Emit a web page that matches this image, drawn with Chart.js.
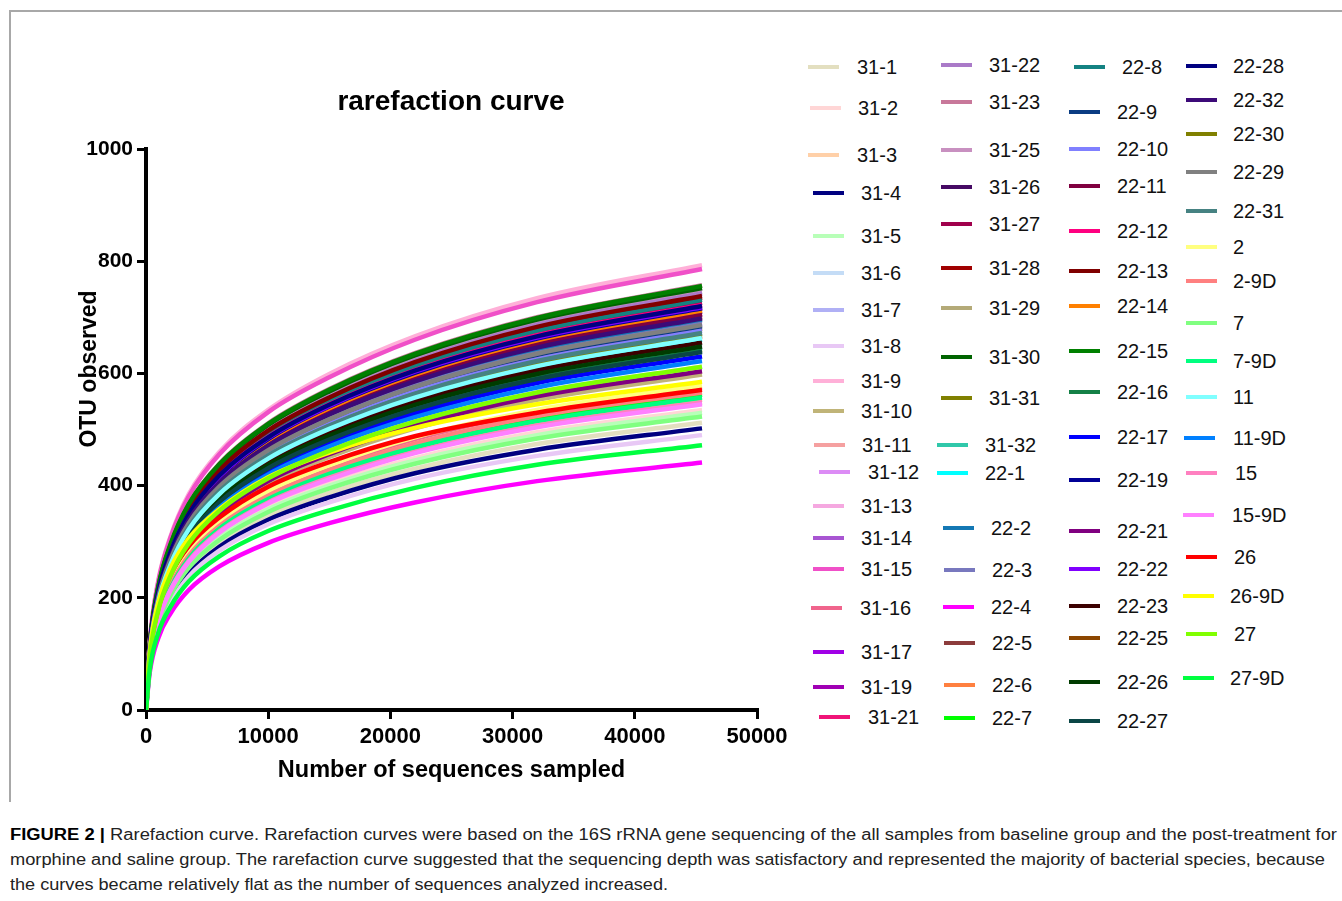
<!DOCTYPE html>
<html>
<head>
<meta charset="utf-8">
<script src="https://cdn.jsdelivr.net/npm/chart.js@4.4.1/dist/chart.umd.min.js"></script>
<style>
html,body{margin:0;padding:0;background:#fff;}
body{width:1342px;height:901px;position:relative;overflow:hidden;font-family:'Liberation Sans',Arial,sans-serif;}
#frameTop{position:absolute;left:9px;top:10px;width:1333px;height:0;border-top:2px solid #a8a8a8;}
#frameLeft{position:absolute;left:9px;top:10px;width:0;height:792px;border-left:2px solid #a8a8a8;}
#chart{position:absolute;left:0;top:0;}
#title{position:absolute;left:251px;width:400px;top:84px;text-align:center;font-weight:bold;font-size:28px;line-height:34px;color:#000;}
#ytitle{position:absolute;left:-12px;top:355px;width:200px;height:28px;line-height:28px;text-align:center;font-weight:bold;font-size:23px;color:#000;transform:rotate(-90deg);transform-origin:50% 50%;white-space:nowrap;}
.lg-line{position:absolute;width:31px;height:4px;}
.lg-text{position:absolute;font-size:20px;line-height:24px;color:#111;white-space:nowrap;}
.cap{position:absolute;left:10px;font-size:16px;line-height:20px;white-space:nowrap;color:#222;transform-origin:0 50%;display:inline-block;}
</style>
</head>
<body>
<div id="frameTop"></div>
<div id="frameLeft"></div>
<canvas id="chart" width="800" height="800"></canvas>
<div id="title">rarefaction curve</div>
<div id="ytitle">OTU observed</div>
<div id="legend"></div>
<div id="caption"></div>
<script>
// ---------- data ----------
const sampleDepths = [0, 300, 1000, 2000, 3500, 6000, 10000, 15000, 22000, 32000, 45500];

const xTickValues = [0, 10000, 20000, 30000, 40000, 50000];
const xTickLabels = ['0', '10000', '20000', '30000', '40000', '50000'];
const yTickValues = [0, 200, 400, 600, 800, 1000];
const yTickLabels = ['0', '200', '400', '600', '800', '1000'];

const sampleNames = [
  '31-1','31-2','31-3','31-4','31-5','31-6','31-7','31-8','31-9','31-10',
  '31-11','31-12','31-13','31-14','31-15','31-16','31-17','31-19','31-21',
  '31-22','31-23','31-25','31-26','31-27','31-28','31-29','31-30','31-31','31-32',
  '22-1','22-2','22-3','22-4','22-5','22-6','22-7',
  '22-8','22-9','22-10','22-11','22-12','22-13','22-14','22-15','22-16','22-17',
  '22-19','22-21','22-22','22-23','22-25','22-26','22-27',
  '22-28','22-32','22-30','22-29','22-31','2','2-9D','7','7-9D','11','11-9D',
  '15','15-9D','26','26-9D','27','27-9D'
];

const seriesColors = [
  '#e3dfc0','#ffd6d6','#ffd0a8','#000080','#b8ffb8','#c4dcf6','#b0b0f5','#e8c8f5','#ffb0d8','#c0b478',
  '#f5a0a0','#dc8cf5','#f5a8e0','#a855d2','#f050c8','#f0648c','#a000e6','#a000b4','#f01478',
  '#aa7ac8','#c8789a','#c890c0','#460a64','#a0004c','#a00000','#b4aa78','#006400','#808000','#30c8aa',
  '#00ffff','#1478b4','#7878be','#ff00ff','#8c3c3c','#ff8040','#00ff00',
  '#148282','#0a3c82','#8080ff','#800040','#ff0080','#800000','#ff8000','#008000','#148046','#0000ff',
  '#000096','#800080','#8000ff','#3c0000','#8c4600','#003c00','#0a4646',
  '#000080','#3c0a78','#808000','#808080','#468282','#ffff80','#ff8080','#80ff80','#00ff80','#80ffff','#0080ff',
  '#ff80c0','#ff80ff','#ff0000','#ffff00','#80ff00','#00ff40'
];

// OTU observed at each sampling depth (sampleDepths), per sample
const s31_1  = [0, 77, 148, 200, 248, 297, 346, 387, 430, 474, 512];
const s31_2  = [0, 80, 155, 209, 259, 310, 361, 404, 449, 495, 535];
const s31_3  = [0, 90, 175, 235, 292, 350, 407, 455, 507, 558, 603];
const s31_4  = [0, 75, 146, 196, 243, 291, 339, 379, 422, 464, 502];
const s31_5  = [0, 80, 154, 207, 257, 307, 358, 400, 445, 490, 530];
const s31_6  = [0, 92, 177, 239, 297, 355, 413, 462, 514, 566, 612];
const s31_7  = [0, 98, 189, 254, 316, 378, 440, 492, 548, 603, 652];
const s31_8  = [0, 74, 142, 191, 238, 284, 331, 370, 412, 453, 490];
const s31_9  = [0, 119, 230, 309, 385, 460, 535, 599, 666, 734, 793];
const s31_10 = [0, 90, 173, 233, 290, 347, 404, 451, 502, 553, 598];
const s31_11 = [0, 83, 160, 216, 268, 321, 373, 418, 465, 512, 553];
const s31_12 = [0, 104, 200, 269, 335, 400, 466, 521, 580, 638, 690];
const s31_13 = [0, 108, 209, 282, 350, 419, 487, 545, 606, 668, 722];
const s31_14 = [0, 111, 215, 289, 360, 430, 501, 560, 623, 686, 742];
const s31_15 = [0, 118, 228, 307, 381, 456, 531, 593, 660, 727, 786];
const s31_16 = [0, 86, 167, 224, 279, 334, 388, 434, 483, 532, 575];
const s31_17 = [0, 105, 203, 273, 340, 406, 473, 529, 588, 648, 700];
const s31_19 = [0, 106, 205, 275, 342, 409, 477, 533, 593, 653, 706];
const s31_21 = [0, 107, 208, 279, 347, 415, 483, 541, 601, 662, 716];
const s31_22 = [0, 112, 216, 291, 361, 432, 503, 562, 626, 689, 745];
const s31_23 = [0, 114, 220, 295, 367, 439, 511, 572, 636, 700, 757];
const s31_25 = [0, 113, 218, 293, 364, 436, 507, 567, 631, 695, 751];
const s31_26 = [0, 107, 206, 277, 344, 412, 479, 536, 596, 657, 710];
const s31_27 = [0, 109, 211, 283, 352, 421, 490, 548, 610, 672, 726];
const s31_28 = [0, 110, 213, 287, 356, 426, 496, 555, 617, 680, 735];
const s31_29 = [0, 105, 204, 274, 340, 407, 474, 530, 590, 649, 702];
const s31_30 = [0, 113, 218, 293, 365, 436, 508, 568, 632, 696, 752];
const s31_31 = [0, 96, 186, 250, 311, 372, 433, 485, 539, 594, 642];
const s31_32 = [0, 97, 187, 252, 313, 375, 436, 488, 543, 598, 646];
const s22_1  = [0, 99, 191, 257, 320, 383, 446, 498, 554, 611, 660];
const s22_2  = [0, 104, 202, 271, 337, 403, 469, 525, 584, 643, 695];
const s22_3  = [0, 103, 200, 268, 334, 399, 464, 519, 578, 636, 688];
const s22_4  = [0, 66, 128, 172, 214, 256, 298, 333, 370, 408, 441];
const s22_5  = [0, 102, 197, 265, 330, 394, 459, 513, 571, 629, 680];
const s22_6  = [0, 105, 203, 273, 340, 406, 473, 529, 588, 648, 700];
const s22_7  = [0, 84, 163, 219, 273, 326, 379, 424, 472, 520, 562];
const s22_8  = [0, 110, 212, 285, 355, 424, 493, 552, 614, 676, 731];
const s22_9  = [0, 103, 198, 267, 332, 397, 462, 516, 575, 633, 684];
const s22_10 = [0, 101, 196, 264, 328, 392, 456, 510, 568, 625, 676];
const s22_11 = [0, 106, 204, 275, 342, 409, 476, 532, 592, 652, 705];
const s22_12 = [0, 108, 209, 282, 350, 419, 487, 545, 606, 668, 722];
const s22_13 = [0, 111, 214, 288, 358, 428, 498, 557, 620, 683, 738];
const s22_14 = [0, 107, 206, 278, 345, 413, 481, 538, 598, 659, 712];
const s22_15 = [0, 113, 219, 295, 367, 438, 510, 571, 635, 699, 756];
const s22_16 = [0, 96, 186, 250, 310, 371, 432, 483, 538, 592, 640];
const s22_17 = [0, 95, 183, 246, 306, 365, 425, 476, 529, 583, 630];
const s22_19 = [0, 107, 208, 279, 347, 415, 483, 541, 601, 662, 716];
const s22_21 = [0, 91, 175, 236, 293, 350, 408, 456, 507, 559, 604];
const s22_22 = [0, 108, 208, 280, 348, 416, 485, 542, 603, 664, 718];
const s22_23 = [0, 98, 190, 255, 318, 380, 442, 495, 550, 606, 655];
const s22_25 = [0, 100, 193, 260, 323, 386, 450, 503, 559, 616, 666];
const s22_26 = [0, 97, 188, 253, 314, 376, 437, 489, 544, 599, 648];
const s22_27 = [0, 96, 185, 249, 309, 370, 431, 482, 536, 590, 638];
const s22_28 = [0, 108, 209, 281, 349, 418, 486, 544, 605, 666, 720];
const s22_32 = [0, 105, 202, 272, 339, 405, 471, 527, 586, 646, 698];
const s22_30 = [0, 101, 194, 261, 325, 389, 452, 506, 563, 620, 670];
const s22_29 = [0, 103, 199, 268, 333, 398, 463, 518, 576, 635, 686];
const s22_31 = [0, 101, 195, 262, 326, 390, 454, 507, 564, 622, 672];
const s2     = [0, 87, 168, 225, 280, 335, 390, 436, 486, 535, 578];
const s2_9D  = [0, 85, 164, 221, 275, 328, 382, 427, 475, 524, 566];
const s7     = [0, 78, 152, 204, 254, 303, 353, 395, 439, 484, 523];
const s7_9D  = [0, 84, 162, 217, 270, 323, 376, 421, 468, 515, 557];
const s11    = [0, 99, 192, 259, 322, 385, 448, 501, 557, 613, 663];
const s11_9D = [0, 93, 180, 243, 302, 361, 420, 470, 522, 575, 622];
const s15    = [0, 82, 159, 214, 266, 318, 370, 414, 460, 507, 548];
const s15_9D = [0, 82, 158, 213, 264, 316, 368, 411, 458, 504, 545];
const s26    = [0, 95, 180, 240, 292, 343, 398, 442, 488, 530, 571];
const s26_9D = [0, 100, 190, 252, 306, 358, 415, 459, 503, 545, 585];
const s27    = [0, 92, 177, 239, 297, 355, 413, 462, 514, 566, 612];
const s27_9D = [0, 71, 137, 184, 229, 274, 319, 356, 396, 437, 472];

const seriesValues = [
  s31_1,s31_2,s31_3,s31_4,s31_5,s31_6,s31_7,s31_8,s31_9,s31_10,
  s31_11,s31_12,s31_13,s31_14,s31_15,s31_16,s31_17,s31_19,s31_21,
  s31_22,s31_23,s31_25,s31_26,s31_27,s31_28,s31_29,s31_30,s31_31,s31_32,
  s22_1,s22_2,s22_3,s22_4,s22_5,s22_6,s22_7,
  s22_8,s22_9,s22_10,s22_11,s22_12,s22_13,s22_14,s22_15,s22_16,s22_17,
  s22_19,s22_21,s22_22,s22_23,s22_25,s22_26,s22_27,
  s22_28,s22_32,s22_30,s22_29,s22_31,s2,s2_9D,s7,s7_9D,s11,s11_9D,
  s15,s15_9D,s26,s26_9D,s27,s27_9D
];

// ---------- layout of the legend (line left x, centre y, text x) ----------
const legendLayout = [
  [808,67,857],[810,108,858],[808,155,857],[813,193,861],[813,236,861],[813,273,861],[813,310,861],[813,346,861],[813,381,861],[813,411,861],
  [814,445,862],[819,472,868],[813,506,861],[813,538,861],[813,569,861],[811,608,860],[813,652,861],[813,687,861],[819,717,868],
  [941,65,989],[941,102,989],[941,150,989],[941,187,989],[941,224,989],[941,268,989],[941,308,989],[941,357,989],[941,398,989],[937,445,985],
  [937,473,985],[943,528,991],[944,570,992],[943,607,991],[944,643,992],[944,685,992],[944,718,992],
  [1074,67,1122],[1069,112,1117],[1069,149,1117],[1069,186,1117],[1069,231,1117],[1069,271,1117],[1069,306,1117],[1069,351,1117],[1069,392,1117],[1069,437,1117],
  [1069,480,1117],[1069,531,1117],[1069,569,1117],[1069,606,1117],[1069,638,1117],[1069,682,1117],[1069,721,1117],
  [1186,66,1233],[1186,100,1233],[1186,134,1233],[1186,172,1233],[1186,211,1233],[1186,247,1233],[1186,281,1233],[1186,323,1233],[1186,361,1233],[1186,397,1233],[1184,438,1233],
  [1186,473,1235],[1183,515,1232],[1186,557,1234],[1183,596,1230],[1186,634,1234],[1183,678,1230]
];

const captionLines = [
  ['FIGURE 2 |', ' Rarefaction curve. Rarefaction curves were based on the 16S rRNA gene sequencing of the all samples from baseline group and the post-treatment for'],
  ['', 'morphine and saline group. The rarefaction curve suggested that the sequencing depth was satisfactory and represented the majority of bacterial species, because'],
  ['', 'the curves became relatively flat as the number of sequences analyzed increased.']
];
const captionLayout = [[835, 1327], [860, 1315], [885, 658]];

// ---------- legend ----------
const legendEl = document.getElementById('legend');
sampleNames.forEach((name, i) => {
  const [lx, cy, tx] = legendLayout[i];
  const ln = document.createElement('div');
  ln.className = 'lg-line';
  ln.style.left = lx + 'px';
  ln.style.top = (cy - 2) + 'px';
  ln.style.background = seriesColors[i];
  legendEl.appendChild(ln);
  const tt = document.createElement('div');
  tt.className = 'lg-text';
  tt.style.left = tx + 'px';
  tt.style.top = (cy - 12) + 'px';
  tt.textContent = name;
  legendEl.appendChild(tt);
});

// ---------- caption ----------
const capEl = document.getElementById('caption');
captionLines.forEach((parts, i) => {
  const d = document.createElement('div');
  d.className = 'cap';
  d.style.top = (captionLayout[i][0] - 10) + 'px';
  if (parts[0]) {
    const b = document.createElement('b');
    b.textContent = parts[0];
    b.style.color = '#000';
    d.appendChild(b);
  }
  d.appendChild(document.createTextNode(parts[1]));
  capEl.appendChild(d);
  const w = d.getBoundingClientRect().width;
  d.style.transform = 'scaleX(' + (captionLayout[i][1] / w).toFixed(4) + ')';
});

// ---------- chart ----------
const axisFamily = "'Liberation Sans', Arial, sans-serif";

const datasets = sampleNames.map((name, i) => ({
  label: name,
  data: sampleDepths.map((d, j) => ({ x: d, y: seriesValues[i][j] })),
  borderColor: seriesColors[i],
  backgroundColor: seriesColors[i],
  borderWidth: 4.5,
  pointRadius: 0,
  pointHoverRadius: 0,
  cubicInterpolationMode: 'monotone',
  fill: false,
  order: sampleNames.length - i
}));

new Chart(document.getElementById('chart'), {
  type: 'line',
  data: { datasets },
  options: {
    responsive: false,
    animation: false,
    events: [],
    layout: { padding: { left: 70, top: 149, right: 43, bottom: 10 } },
    plugins: {
      legend: { display: false },
      title: { display: false },
      tooltip: { enabled: false }
    },
    scales: {
      x: {
        type: 'linear',
        min: 0,
        max: 50000,
        afterBuildTicks: s => { s.ticks = xTickValues.map(v => ({ value: v })); },
        ticks: {
          autoSkip: false,
          maxRotation: 0,
          padding: 5,
          color: '#000',
          font: { family: axisFamily, weight: 'bold', size: 22 },
          callback: v => xTickLabels[xTickValues.indexOf(v)]
        },
        grid: { drawOnChartArea: false, drawTicks: true, tickLength: 9, color: '#000', lineWidth: 3 },
        border: { color: '#000', width: 4 },
        title: {
          display: true,
          text: 'Number of sequences sampled',
          color: '#000',
          font: { family: axisFamily, weight: 'bold', size: 23.5 },
          padding: { top: 0, bottom: 5 }
        },
        afterFit: s => { s.height = 80; }
      },
      y: {
        type: 'linear',
        min: 0,
        max: 1000,
        afterBuildTicks: s => { s.ticks = yTickValues.map(v => ({ value: v })); },
        ticks: {
          padding: 4,
          color: '#000',
          font: { family: axisFamily, weight: 'bold', size: 21 },
          callback: v => yTickLabels[yTickValues.indexOf(v)]
        },
        grid: { drawOnChartArea: false, drawTicks: true, tickLength: 9, color: '#000', lineWidth: 3 },
        border: { color: '#000', width: 4 },
        title: { display: false },
        afterFit: s => { s.width = 76; }
      }
    }
  }
});
</script>
</body>
</html>
